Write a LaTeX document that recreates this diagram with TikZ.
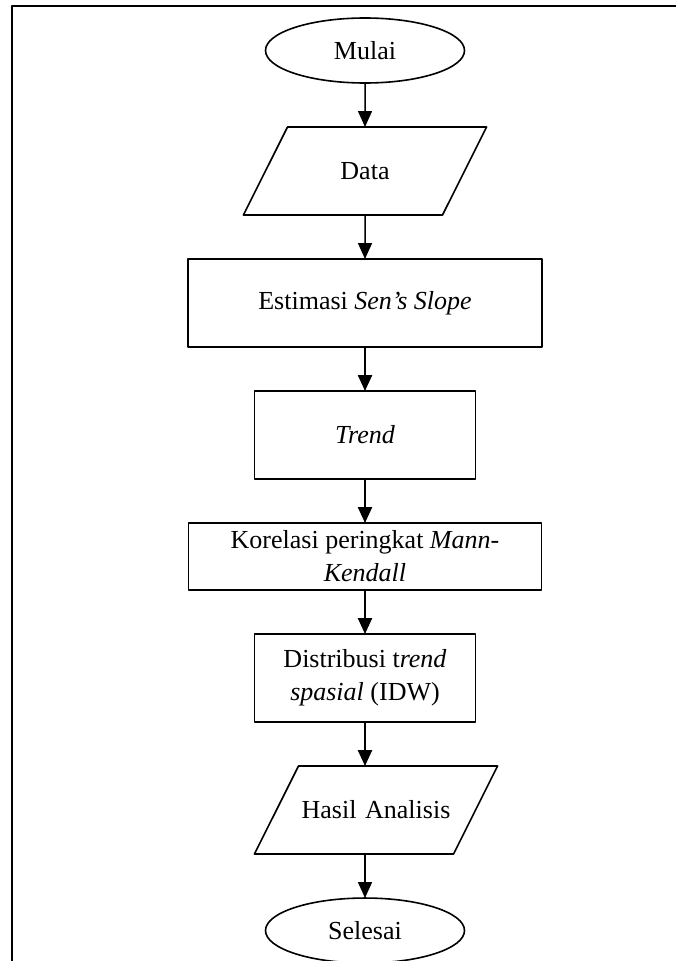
\documentclass[tikz,border=0pt]{standalone}
\usepackage{fontspec}
\setmainfont{Liberation Serif}
\usetikzlibrary{positioning,shapes.geometric,arrows.meta}

\begin{document}
\begin{tikzpicture}[x=1pt, y=1pt, font=\fontsize{26}{33}\selectfont, line join=round, >={Triangle[width=14pt,length=16pt]}]
\tikzset{every node/.style={align=center, line width=1.6pt, outer sep=0pt}}
\tikzset{terminal/.style={draw, ellipse, minimum width=199pt, minimum height=65pt, inner sep=0pt}}
\tikzset{iobox/.style={draw, trapezium, trapezium left angle=63.4, trapezium right angle=116.6, text width=155pt, text height=20.6pt, text depth=3.4pt, inner xsep=0pt, inner ysep=32pt}}
\tikzset{procbox/.style={draw, rectangle, minimum height=88pt, inner sep=0pt}}
\tikzset{flow/.style={->, line width=2.4pt}}
\tikzset{thinflow/.style={->, line width=1.5pt}}
\useasboundingbox (0,0) rectangle (675,-961);
% frame of the page
\draw[line width=2.5pt] (12,-990) -- (12,-6) -- (700,-6);
\node[terminal] (mulai) at (365,-50.5) {Mulai};
\node[iobox, below=44pt of mulai] (data) {Data};
\node[procbox, minimum width=354pt, below=44pt of data] (sens) {Estimasi \textit{Sen's Slope}};
\node[procbox, minimum width=221pt, below=44pt of sens] (trend) {\textit{Trend}};
\node[procbox, minimum width=353pt, minimum height=67pt, below=44pt of trend] (mk) {Korelasi peringkat \textit{Mann-}\\\textit{Kendall}};
\node[procbox, minimum width=221pt, below=44pt of mk] (idw) {Distribusi t\textit{rend}\\\textit{spasial} (IDW)};
\node[iobox, below=44pt of idw, xshift=11pt] (hasil) {Hasil Analisis};
\node[terminal, below=44pt of hasil, xshift=-11pt] (selesai) {Selesai};
\draw[thinflow] (mulai) -- (data);
\draw[thinflow] (data) -- (sens);
\draw[flow] (sens) -- (trend);
\draw[flow] (trend) -- (mk);
\draw[flow] (mk) -- (idw);
\draw[flow] (idw) -- (idw.south |- hasil.north);
\draw[thinflow] (hasil.south -| selesai.north) -- (selesai);
\end{tikzpicture}
\end{document}
